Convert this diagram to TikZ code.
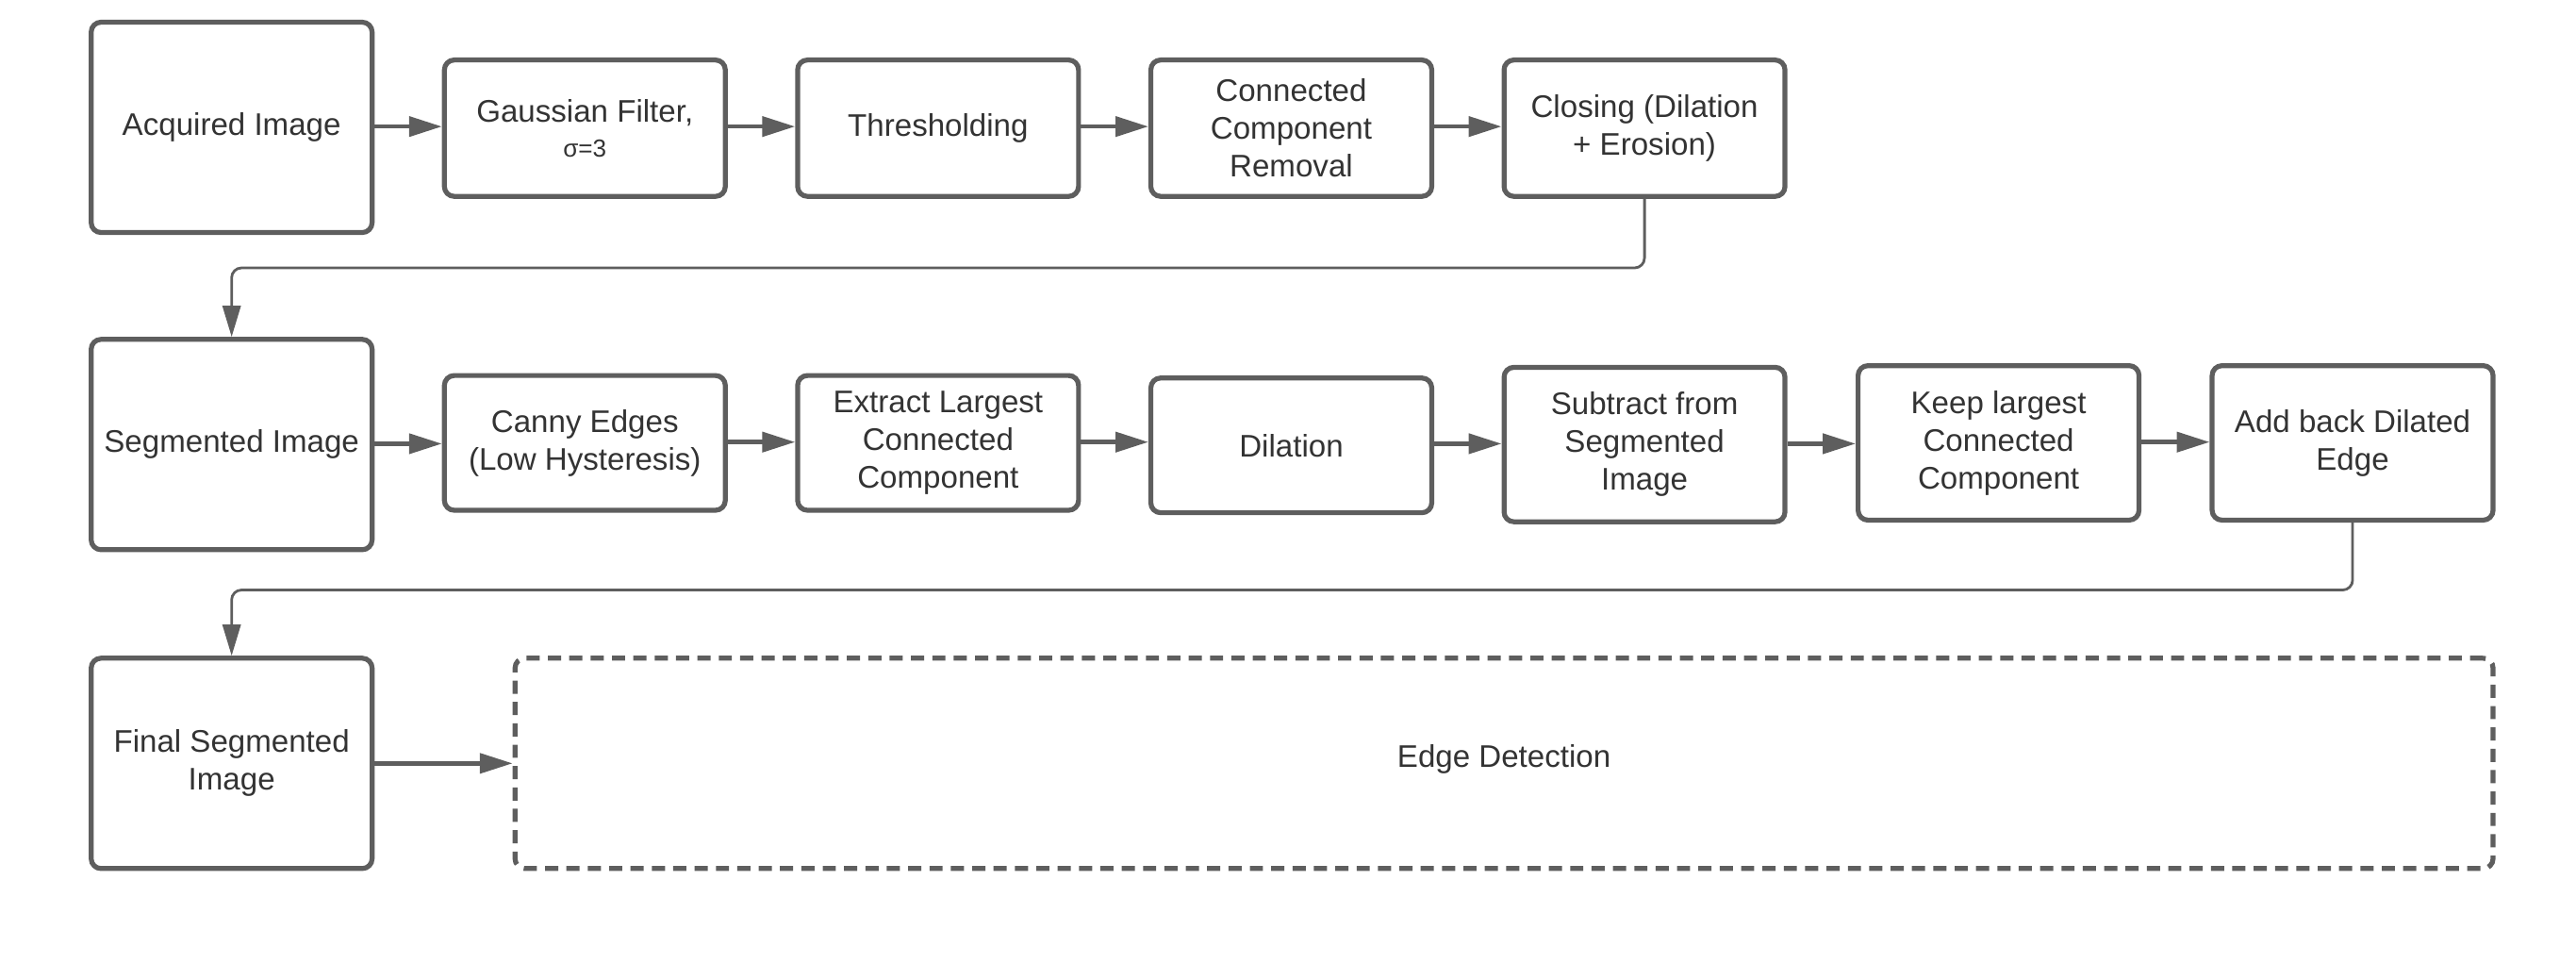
\documentclass[tikz,border=0pt]{standalone}
\usepackage{fontspec}
\setmainfont{Liberation Sans}
\usetikzlibrary{arrows.meta}
\definecolor{ln}{HTML}{5E5E5E}
\definecolor{tx}{HTML}{333333}
\tikzset{
  stepbox/.style={draw=ln, line width=3pt, rounded corners=6pt, fill=white,
    align=center, text=tx, inner sep=0pt, minimum width=171pt,
    font=\fontsize{19}{23}\selectfont},
  dashbox/.style={stepbox, dash pattern=on 8pt off 5pt},
  flow/.style={draw=ln, line width=2.6pt, -{Triangle[length=20pt,width=12pt]}},
  conn/.style={draw=ln, line width=1.6pt, rounded corners=6pt, -{Triangle[length=19pt,width=11pt]}}
}
\begin{document}
\begin{tikzpicture}[x=1pt,y=-1pt]
\useasboundingbox (0,0) rectangle (1568,596.3);
% row 1
\node[stepbox, minimum height=128pt] (A) at (141,77.5) {Acquired Image};
\node[stepbox, minimum height=83pt] (G) at (356,78) {Gaussian Filter,\\[-2pt]{\fontsize{15}{16}\selectfont σ=3}};
\node[stepbox, minimum height=83pt] (T) at (571,78) {Thresholding};
\node[stepbox, minimum height=83pt] (C) at (786,78) {Connected\\Component\\Removal};
\node[stepbox, minimum height=83pt] (Cl) at (1001,78) {Closing (Dilation\\+ Erosion)};
% row 2
\node[stepbox, minimum height=128pt] (S) at (141,270.5) {Segmented Image};
\node[stepbox, minimum height=82pt] (Ca) at (356,269.5) {Canny Edges\\(Low Hysteresis)};
\node[stepbox, minimum height=82pt] (E) at (571,269.5) {Extract Largest\\Connected\\Component};
\node[stepbox, minimum height=82pt] (D) at (786,271) {Dilation};
\node[stepbox, minimum height=94pt] (Su) at (1001,270.5) {Subtract from\\Segmented\\Image};
\node[stepbox, minimum height=94pt] (K) at (1216.5,269.5) {Keep largest\\Connected\\Component};
\node[stepbox, minimum height=94pt] (Ad) at (1432,269.5) {Add back Dilated\\Edge};
% row 3
\node[stepbox, minimum height=128pt] (F) at (141,464.5) {Final Segmented\\Image};
\node[dashbox, minimum width=1204pt, minimum height=128pt] (ED) at (915.5,464.5) {};
\node[text=tx, font=\fontsize{19}{23}\selectfont] (EDt) at (915.5,462) {Edge Detection};
% arrows
\draw[flow] (A.east |- 0,77) -- (G.west |- 0,77);
\draw[flow] (G.east |- 0,77) -- (T.west |- 0,77);
\draw[flow] (T.east |- 0,77) -- (C.west |- 0,77);
\draw[flow] (C.east |- 0,77) -- (Cl.west |- 0,77);
\draw[flow] (S.east |- 0,270) -- (Ca.west |- 0,270);
\draw[flow] (Ca.east |- 0,269) -- (E.west |- 0,269);
\draw[flow] (E.east |- 0,269) -- (D.west |- 0,269);
\draw[flow] (D.east |- 0,270) -- (Su.west |- 0,270);
\draw[flow] (Su.east |- 0,270) -- (K.west |- 0,270);
\draw[flow] (K.east |- 0,269) -- (Ad.west |- 0,269);
\draw[flow] (F.east) -- (ED.west);
% connectors
\draw[conn] (Cl.south) -- (Cl.south |- 0,163) -| (S.north);
\draw[conn] (Ad.south) -- (Ad.south |- 0,359) -| (F.north);
\end{tikzpicture}
\end{document}
